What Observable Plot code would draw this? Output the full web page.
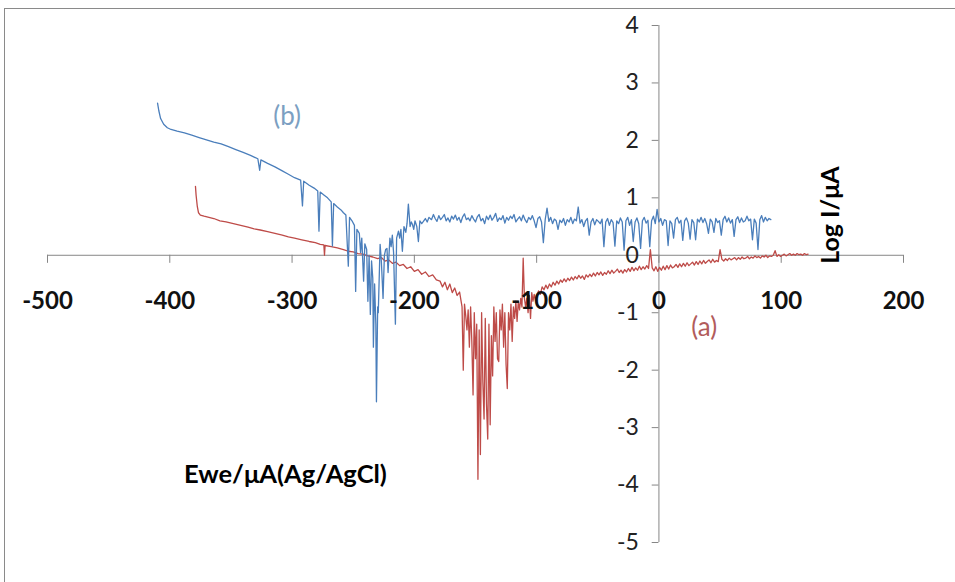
<!DOCTYPE html>
<html><head><meta charset="utf-8">
<script src="https://cdn.jsdelivr.net/npm/d3@7"></script>
<script src="https://cdn.jsdelivr.net/npm/@observablehq/plot@0.6"></script>
<style>
body{margin:0;background:#fff;}
#wrap{position:relative;width:955px;height:582px;overflow:hidden;background:#fff;}
#chart{position:absolute;left:0;top:0;}
#border{position:absolute;left:4px;top:8px;width:970px;height:600px;border:1px solid #8a8a8a;box-sizing:border-box;pointer-events:none;}
</style></head><body>
<div id="wrap"><div id="chart"></div><div id="border"></div></div>
<script>
// Curve (b) - blue : potential (mV) and log I
const blueE = [-410,-409,-407.5,-405,-402,-399,-394,-388,-382,-376,-370,-364,-358,-352,-346,-340,-334,-328,-326.5,-325.5,-320,-314,-308,-303,-298,-293,-291.5,-290.5,-286,-282,-279,-278,-277,-274,-271,-268,-267,-266,-263,
-260,-258,-256,-254,-253,-251,-249,-248,-247,-245,-244,-243,-241.5,-240.5,-239,-238,-237,-236,-235,-234,-233.5,-232.5,-231.5,-231,-230,-229.5,-228.5,-228,-227,-225.6,-224.5,-223.5,-222.4,-221.5,-220,-219,-218,-217,-215.5,-214.5,-213,-212,-211,-209.8,-208.5,-207,-206,-204.9,-203.5,-202.5,-201.6,-200.5,-199.5,-198,-196.7,-195.5,-194,-192.6,-191,-189.5,-188,-186,-184.4,
-183,-181.5,-180,-178.5,-177,-175.5,-174,-172.5,-171,-169.5,
-168,-166.5,-165,-163.5,-162,-160.5,-159,-157.5,-156,-154.5,
-153,-151.5,-150,-148.5,-147,-145.5,-144,-142.5,-141,-139.5,
-138,-136.5,-135,-133.5,-132,-130.5,-129,-127.5,-126,-124.5,
-123,-121.5,-120,-118.5,-117,-115.5,-114,-112.5,-111,-109.5,
-108,-106.5,-105,-103.5,-102,-100.5,-99,-97.5,-96,-94.5,
-93,-91.5,-90,-88.5,-87,-85.5,-84,-82.5,-81,-79.5,
-78,-76.5,-75,-73.5,-72,-70.5,-69,-67.5,-66,-64.5,
-63,-61.5,-60,-58.5,-57,-55.5,-54,-52.5,-51,-49.5,
-48,-46.5,-45,-43.5,-42,-40.5,-39,-37.5,-36,-34.5,
-33,-31.5,-30,-28.5,-27,-25.5,-24,-22.5,-21,-19.5,
-18,-16.5,-15,-13.5,-12,-10.5,-9,-7.5,-6,-4.5,
-3,-1.5,0,1.5,3,4.5,6,7.5,9,10.5,
12,13.5,15,16.5,18,19.5,21,22.5,24,25.5,
27,28.5,30,31.5,33,34.5,36,37.5,39,40.5,
42,43.5,45,46.5,48,49.5,51,52.5,54,55.5,
57,58.5,60,61.5,63,64.5,66,67.5,69,70.5,
72,73.5,75,76.5,78,79.5,81,82.5,84,85.5,
87,88.5,90,91.5];
const blueLogI = [2.65,2.52,2.38,2.28,2.22,2.19,2.16,2.13,2.09,2.05,2.01,1.97,1.94,1.89,1.84,1.79,1.74,1.68,1.48,1.66,1.60,1.54,1.47,1.41,1.35,1.31,0.86,1.29,1.22,1.17,1.12,0.42,1.1,1.05,1.0,0.93,0.16,0.9,0.84,
0.79,0.74,0.70,-0.19,0.66,0.6,0.52,-0.63,0.45,0.38,0.05,0.3,-0.45,0.2,0.1,-0.8,0.0,-1.03,-0.1,-0.4,-1.6,-0.5,-1.2,-2.55,-0.9,-1.0,-0.2,0.19,-0.1,-0.75,0.0,0.1,0.12,-0.3,0.3,0.15,0.35,0.05,-1.2,0.3,0.42,0.3,0.45,0.07,0.5,0.4,0.55,0.89,0.5,0.58,0.54,0.45,0.6,0.5,0.24,0.6,0.55,0.59,0.64,0.58,0.66,0.62,0.71,
0.64,0.59,0.69,0.62,0.66,0.71,0.6,0.65,0.58,0.68,
0.63,0.7,0.61,0.66,0.57,0.67,0.72,0.62,0.65,0.6,
0.69,0.63,0.58,0.67,0.71,0.6,0.64,0.55,0.68,0.62,
0.7,0.61,0.66,0.73,0.59,0.65,0.62,0.69,0.56,0.66,
0.61,0.68,0.64,0.71,0.58,0.63,0.67,0.6,0.7,0.62,
0.57,0.66,0.62,0.69,0.6,0.48,0.64,0.67,0.58,0.22,
0.62,0.82,0.59,0.66,0.55,0.63,0.6,0.45,0.61,0.57,
0.64,0.52,0.62,0.58,0.66,0.55,0.63,0.6,0.84,0.56,
0.62,0.5,0.6,0.64,0.35,0.58,0.64,0.53,0.62,0.59,
0.55,0.63,0.15,0.58,0.64,0.52,0.62,0.57,0.16,0.6,
0.55,0.65,0.58,0.09,0.6,0.66,0.52,0.62,0.24,0.58,
0.65,0.55,0.12,0.6,0.66,0.56,0.61,0.15,0.6,0.68,
0.55,0.8,0.58,0.64,0.52,0.62,0.6,0.17,0.6,0.55,
0.3,0.62,0.66,0.56,0.61,0.26,0.6,0.65,0.56,0.28,
0.62,0.57,0.27,0.63,0.58,0.66,0.57,0.64,0.55,0.38,
0.63,0.58,0.4,0.64,0.57,0.6,0.35,0.62,0.68,0.58,
0.65,0.56,0.62,0.33,0.62,0.67,0.57,0.65,0.58,0.6,
0.68,0.6,0.63,0.27,0.63,0.56,0.1,0.62,0.69,0.58,
0.66,0.6,0.64,0.62];

// Curve (a) - red : potential (mV) and log I
const redE = [-379,-378.5,-377.5,-376.5,-375,-372,-368,-364,-359,-354,-348,-342,-336,-331,-326,-320,-314,-308,-303,-298,-292,-286,-281,-277,-274,-273.5,-273,-268,-263,-258,-254,-250,-246,-242,-238,-234,-230,-227,-224,-221,-218,-215,-212,-209,-206,-203,-200,-197,-194,-191,-188,-185,-182,-179,-177,-175,-173,-171,-169,-167,-165,-163,
-161,-160,-159,-158,-157,-156,-155,-154,-153,-152,-151,-150,-149,-148,-147,-146,-145,-144,-143,-142,-141,-140,-139,-138,-137,-136,-135,-134,-133,-132,-131,-130,-129,-128,-127,-126,-125,-124,-123,-122,-121,-120,-119,-118,-117,-116,-115,-114,-113,-112,-111,-110,-109,-108,-107,-106,-105,-104,-103,-102,-101,
-100,-98.5,-97,-95.5,-94,-92.5,-91,-89.5,-88,-86.5,
-85,-83.5,-82,-80.5,-79,-77.5,-76,-74.5,-73,-71.5,
-70,-68.5,-67,-65.5,-64,-62.5,-61,-59.5,-58,-56.5,
-55,-53.5,-52,-50.5,-49,-47.5,-46,-44.5,-43,-41.5,
-40,-38.5,-37,-35.5,-34,-32.5,-31,-29.5,-28,-26.5,
-25,-23.5,-22,-20.5,-19,-17.5,-16,-14.5,-13,-11.5,
-10,-8.5,-7,-5.5,-4,-2.5,-1,0.5,2,3.5,
5,6.5,8,9.5,11,12.5,14,15.5,17,18.5,
20,21.5,23,24.5,26,27.5,29,30.5,32,33.5,
35,36.5,38,39.5,41,42.5,44,45.5,47,48.5,
50,51.5,53,54.5,56,57.5,59,60.5,62,63.5,
65,66.5,68,69.5,71,72.5,74,75.5,77,78.5,
80,81.5,83,84.5,86,87.5,89,90.5,92,93.5,
95,96.5,98,99.5,101,102.5,104,105.5,107,108.5,
110,111.5,113,114.5,116,117.5,119,120.5,122];
const redLogI = [1.2,1.05,0.85,0.74,0.7,0.68,0.66,0.64,0.6,0.58,0.55,0.52,0.49,0.46,0.44,0.41,0.38,0.35,0.32,0.3,0.27,0.24,0.22,0.19,0.18,0.0,0.17,0.15,0.13,0.1,0.07,0.06,0.03,0.02,-0.01,-0.03,-0.06,-0.04,-0.1,-0.08,-0.14,-0.12,-0.18,-0.16,-0.23,-0.2,-0.28,-0.25,-0.33,-0.29,-0.37,-0.34,-0.43,-0.45,-0.55,-0.47,-0.6,-0.5,-0.65,-0.57,-0.7,-0.64,
-0.9,-2.0,-0.85,-1.05,-1.3,-0.95,-1.6,-0.9,-1.5,-2.43,-1.0,-1.8,-1.2,-3.9,-1.3,-3.47,-1.0,-2.2,-2.85,-1.1,-2.6,-3.2,-1.2,-2.95,-1.4,-2.1,-0.9,-1.5,-1.0,-1.8,-1.85,-0.95,-1.3,-0.85,-1.6,-1.0,-1.9,-2.32,-1.0,-1.3,-0.85,-1.5,-0.9,-1.1,-0.8,-1.15,-0.8,-0.95,-0.75,-0.9,-0.05,-0.75,-0.9,-0.75,-1.0,-0.7,-1.1,-0.65,-0.8,-0.68,-0.78,
-0.72,-0.62,-0.68,-0.55,-0.6,-0.52,-0.58,-0.5,-0.55,-0.47,
-0.52,-0.45,-0.5,-0.43,-0.47,-0.41,-0.46,-0.4,-0.44,-0.38,
-0.43,-0.37,-0.41,-0.35,-0.4,-0.36,-0.42,-0.34,-0.38,-0.33,
-0.37,-0.31,-0.36,-0.3,-0.34,-0.29,-0.35,-0.3,-0.33,-0.27,
-0.32,-0.26,-0.31,-0.28,-0.24,-0.3,-0.26,-0.31,-0.25,-0.29,
-0.23,-0.28,-0.21,-0.27,-0.22,-0.26,-0.19,-0.25,-0.2,-0.24,
-0.18,-0.23,0.1,-0.22,-0.27,-0.2,-0.28,-0.21,-0.26,-0.19,
-0.25,-0.18,-0.24,-0.17,-0.22,-0.2,-0.16,-0.21,-0.15,-0.2,
-0.14,-0.19,-0.13,-0.18,-0.15,-0.12,-0.17,-0.11,-0.16,-0.1,
-0.15,-0.09,-0.14,-0.11,-0.08,-0.13,-0.07,-0.12,-0.09,-0.11,
0.1,-0.07,-0.1,-0.06,-0.09,-0.05,-0.08,-0.06,-0.04,-0.08,
-0.04,-0.07,-0.03,-0.06,-0.05,-0.02,-0.06,-0.03,-0.05,-0.01,
-0.04,-0.02,-0.05,-0.01,-0.03,0.0,-0.04,-0.01,-0.02,0.0,
0.08,-0.02,0.01,-0.02,0.0,0.02,-0.01,0.01,0.03,0.0,
0.02,0.0,0.03,0.01,0.02,0.0,0.03,0.01,0.02];

const xTicks = [-500,-400,-300,-200,-100,0,100,200];
const yTicks = [-5,-4,-3,-2,-1,0,1,2,3,4];
const xTickLabels = ["-500","-400","-300","-200","-100","0","100","200"];
const yTickLabels = ["-5","-4","-3","-2","-1","0","1","2","3","4"];

const annotations = [
  {text: "(b)", x: -304, y: 2.42, color: "#7c9fc2", size: 26, weight: "normal", rotate: 0},
  {text: "(a)", x: 37, y: -1.26, color: "#b25c5c", size: 26, weight: "normal", rotate: 0},
  {text: "Ewe/μA(Ag/AgCl)", x: -305.5, y: -3.82, color: "#000", size: 25.5, weight: "bold", rotate: 0},
  {text: "Log I/μA", x: 141, y: 0.7, color: "#000", size: 25, weight: "bold", rotate: -90}
];

const blue = blueE.map((e, i) => ({e, v: blueLogI[i]}));
const red = redE.map((e, i) => ({e, v: redLogI[i]}));
const axisColor = "#868686";

const chart = Plot.plot({
  width: 955, height: 582,
  marginLeft: 47, marginRight: 52, marginTop: 25, marginBottom: 40,
  x: {domain: [-500, 200], axis: null},
  y: {domain: [-5, 4], axis: null},
  style: {fontFamily: "Lato, 'Open Sans', sans-serif", background: "transparent"},
  marks: [
    Plot.ruleY([0], {stroke: axisColor, strokeWidth: 1}),
    Plot.ruleX([0], {stroke: axisColor, strokeWidth: 1}),
    Plot.ruleX(xTicks, {x: d => d, y1: 0, y2: -0.14, stroke: axisColor}),
    Plot.ruleY(yTicks, {y: d => d, x1: 0, x2: -5.5, stroke: axisColor}),
    Plot.line(red, {x: "e", y: "v", stroke: "#be4b48", strokeWidth: 1.3}),
    Plot.line(blue, {x: "e", y: "v", stroke: "#4a7ebb", strokeWidth: 1.3}),
    Plot.text(xTicks, {x: d => d, y: 0, dy: 46, text: (d, i) => xTickLabels[i], fontSize: 24, fontWeight: "bold", fill: "#111"}),
    Plot.text(yTicks, {x: 0, y: d => d, dx: -20, textAnchor: "end", text: (d, i) => yTickLabels[i], fontSize: 23, fill: "#222"}),
    ...annotations.map(a => Plot.text([a], {x: "x", y: "y", text: "text", fill: a.color, fontSize: a.size, fontWeight: a.weight, rotate: a.rotate}))
  ]
});
document.getElementById("chart").appendChild(chart);
</script>
</body></html>
